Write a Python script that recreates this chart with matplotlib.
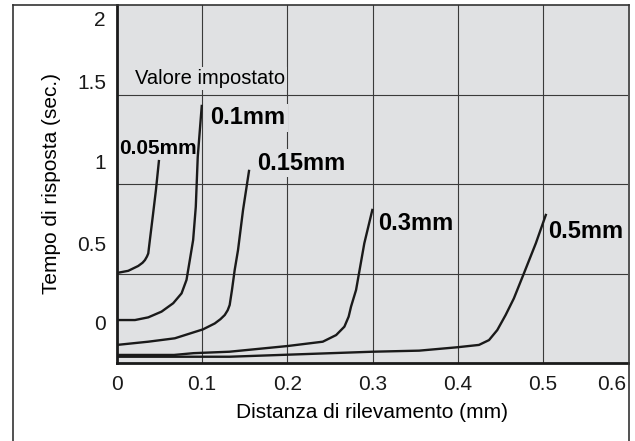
import matplotlib
matplotlib.use("Agg")
import matplotlib.pyplot as plt
import matplotlib.transforms as mtrans
from matplotlib.lines import Line2D

plt.rcParams['font.family'] = ['Liberation Sans', 'DejaVu Sans']

# response-time curves, one per set value (x in mm, y in grid units)
x_005 = [0, 0.0132, 0.0249, 0.0300, 0.0328, 0.0352, 0.0367, 0.0386, 0.0422, 0.0457, 0.0492]
y_005 = [0.503, 0.515, 0.542, 0.560, 0.575, 0.595, 0.612, 0.687, 0.827, 0.966, 1.128]

x_01 = [0, 0.0211, 0.0367, 0.0523, 0.066, 0.0758, 0.0816, 0.0855, 0.0894, 0.0925, 0.0948, 0.0995]
y_01 = [0.240, 0.240, 0.255, 0.287, 0.334, 0.389, 0.464, 0.575, 0.687, 0.872, 1.151, 1.436]

x_015 = [0, 0.0367, 0.0679, 0.101, 0.1148, 0.1215, 0.1265, 0.1300, 0.1323, 0.135, 0.1382, 0.1421, 0.148, 0.155]
y_015 = [0.101, 0.119, 0.138, 0.188, 0.221, 0.245, 0.268, 0.295, 0.324, 0.408, 0.520, 0.631, 0.855, 1.073]

x_03 = [0, 0.067, 0.090, 0.132, 0.2006, 0.2416, 0.2573, 0.267, 0.272, 0.2748, 0.2807, 0.2904, 0.2998]
y_03 = [0.045, 0.045, 0.055, 0.063, 0.095, 0.119, 0.156, 0.203, 0.259, 0.315, 0.408, 0.669, 0.855]

x_05 = [0, 0.132, 0.3, 0.3548, 0.3997, 0.425, 0.4368, 0.4465, 0.4563, 0.466, 0.4778, 0.4918, 0.5035]
y_05 = [0.035, 0.035, 0.063, 0.069, 0.088, 0.101, 0.128, 0.184, 0.268, 0.361, 0.501, 0.669, 0.827]

curves = [(x_005, y_005), (x_01, y_01), (x_015, y_015), (x_03, y_03), (x_05, y_05)]
curve_labels = ['0.05mm', '0.1mm', '0.15mm', '0.3mm', '0.5mm']

x_ticks = [0, 0.1, 0.2, 0.3, 0.4, 0.5, 0.6]
x_tick_labels = ['0', '0.1', '0.2', '0.3', '0.4', '0.5', '0.6']
y_tick_labels = ['0', '0.5', '1', '1.5', '2']

bg = '#e0e1e3'
grid_col = '#3a3a3a'

fig = plt.figure(figsize=(6.35, 4.41), dpi=100)
ax = fig.add_axes([117 / 635, 1 - 363 / 441, (628 - 117) / 635, (363 - 5) / 441])
ax.set_facecolor(bg)
ax.set_xlim(0, 0.6)
ax.set_ylim(0, 2)

# grid
for gx in [0.1, 0.2, 0.3, 0.4, 0.5]:
    ax.axvline(gx, color=grid_col, lw=0.8, zorder=1)
for gy in [0.5, 1.0, 1.5]:
    ax.axhline(gy, color=grid_col, lw=0.8, zorder=1)

for (xs, ys) in curves:
    ax.plot(xs, ys, color='#1a1a1a', lw=1.7, zorder=3, solid_joinstyle='round')

# tick labels sit off the grid lines in the original
ax.set_xticks(x_ticks)
ax.set_xticklabels(x_tick_labels, fontsize=15)
ax.set_yticks([0.229, 0.670, 1.123, 1.575, 1.922])
ax.set_yticklabels(y_tick_labels, fontsize=15)
ax.tick_params(length=0, pad=8, colors='#1a1a1a')
ax.tick_params(axis='x', pad=9)
last = ax.get_xticklabels()[-1]
last.set_transform(last.get_transform() + mtrans.ScaledTranslation(-0.16, 0, fig.dpi_scale_trans))

for side in ['top', 'right']:
    ax.spines[side].set_visible(False)
ax.spines['left'].set_linewidth(2)
ax.spines['bottom'].set_linewidth(2)
ax.spines['left'].set_color('#1a1a1a')
ax.spines['bottom'].set_color('#1a1a1a')

box = dict(facecolor=bg, edgecolor='none', pad=1.5)
ax.text(0.021, 1.592, 'Valore impostato', fontsize=14.5, va='center', ha='left', bbox=box, zorder=4)
label_pos = [(0.0023, 1.201, 15), (0.1097, 1.369, 17), (0.165, 1.117, 17), (0.3068, 0.782, 17), (0.5059, 0.732, 17)]
for lab, (lx, ly, fs) in zip(curve_labels, label_pos):
    z = 2.5 if lab == '0.05mm' else 4
    ax.text(lx, ly, lab, fontsize=fs, fontweight='bold', va='center', ha='left', bbox=box, zorder=z)

fig.text(372.5 / 635, 1 - 413 / 441, 'Distanza di rilevamento (mm)', fontsize=15, ha='center', va='center')
fig.text(52 / 635, 1 - 183.5 / 441, 'Tempo di risposta (sec.)', fontsize=15, ha='center', va='center', rotation=90)

# outer frame (open at the bottom)
frame_col = '#333333'
fig.add_artist(Line2D([12.5 / 635, 12.5 / 635], [0, 1 - 5 / 441], color=frame_col, lw=1.2))
fig.add_artist(Line2D([628.5 / 635, 628.5 / 635], [0, 1 - 5 / 441], color=frame_col, lw=1.2))
fig.add_artist(Line2D([12.5 / 635, 628.5 / 635], [1 - 5 / 441, 1 - 5 / 441], color=frame_col, lw=1.2))

fig.savefig('out.png', dpi=100)
